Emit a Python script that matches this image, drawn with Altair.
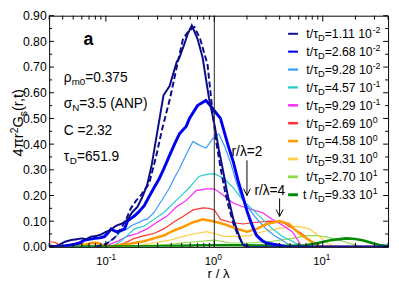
import altair as alt
import pandas as pd

FONT = "Liberation Sans"
W, H = 346, 236
REF_TOP, REF_H = 6, 243


def ypx(yref):
    return (yref - REF_TOP) * H / REF_H


# ---------------- data ----------------
nums = ["1.11", "2.68", "9.28", "4.57", "9.29", "2.69", "4.58", "9.31", "2.70", "9.33"]
exps = ["-2", "-2", "-2", "-1", "-1", "0", "0", "0", "1", "1"]
pres = ["t/τ"] * 9 + ["t /τ"]
colors = ["#0c0c8a", "#0000f0", "#3399ff", "#22cccc", "#ff22ff",
          "#ff3333", "#ff9900", "#ffcc44", "#8fd94a", "#008c00"]
widths = [2.0, 3.0, 1.2, 1.2, 1.2, 1.2, 2.6, 1.2, 1.2, 2.6]

r_s0 = [0.030, 0.034, 0.037, 0.042, 0.048, 0.054, 0.060, 0.066, 0.073, 0.081, 0.090, 0.100, 0.111, 0.120, 0.128,
        0.140, 0.158, 0.175, 0.195, 0.215, 0.240, 0.265, 0.296, 0.340, 0.387, 0.450, 0.477, 0.530, 0.570, 0.620,
        0.700, 0.780, 0.895, 1.000, 1.100, 1.200, 1.320, 1.500, 1.620, 1.730, 1.840, 2.000, 40.0]
g_s0 = [0.005, 0.003, 0.008, 0.020, 0.027, 0.030, 0.033, 0.030, 0.040, 0.042, 0.048, 0.058, 0.065, 0.078, 0.085,
        0.090, 0.105, 0.135, 0.155, 0.190, 0.240, 0.320, 0.440, 0.590, 0.626, 0.720, 0.737, 0.790, 0.830, 0.862,
        0.810, 0.737, 0.576, 0.480, 0.380, 0.300, 0.207, 0.107, 0.065, 0.033, 0.007, 0.000, 0.000]

r_s1 = [0.030, 0.040, 0.049, 0.057, 0.064, 0.072, 0.079, 0.088, 0.097, 0.105, 0.112, 0.120, 0.128, 0.140, 0.149,
        0.158, 0.170, 0.183, 0.200, 0.226, 0.250, 0.278, 0.310, 0.342, 0.387, 0.430, 0.477, 0.552, 0.590, 0.700,
        0.836, 0.920, 1.000, 1.140, 1.250, 1.350, 1.500, 1.650, 1.850, 2.000, 2.130, 2.300, 2.460, 2.750, 3.030,
        3.500, 3.970, 4.500, 40.0]
g_s1 = [0.002, 0.003, 0.008, 0.015, 0.027, 0.030, 0.033, 0.035, 0.040, 0.055, 0.070, 0.062, 0.058, 0.065, 0.070,
        0.100, 0.110, 0.120, 0.135, 0.160, 0.195, 0.230, 0.265, 0.304, 0.356, 0.400, 0.440, 0.470, 0.500, 0.550,
        0.570, 0.550, 0.530, 0.500, 0.440, 0.390, 0.330, 0.260, 0.190, 0.140, 0.107, 0.070, 0.044, 0.025, 0.015,
        0.010, 0.007, 0.000, 0.000]

r_s2 = [0.030, 0.060, 0.080, 0.095, 0.105, 0.120, 0.137, 0.158, 0.170, 0.200, 0.226, 0.240, 0.277, 0.315, 0.350,
        0.387, 0.430, 0.477, 0.550, 0.634, 0.700, 0.753, 0.840, 0.960, 1.100, 1.250, 1.410, 1.560, 1.730, 1.930,
        2.130, 2.370, 2.620, 2.900, 3.230, 3.700, 4.230, 4.800, 5.400, 40.0]
g_s2 = [0.000, 0.002, 0.005, 0.010, 0.018, 0.033, 0.059, 0.070, 0.081, 0.095, 0.105, 0.108, 0.133, 0.170, 0.200,
        0.230, 0.270, 0.304, 0.360, 0.410, 0.400, 0.393, 0.385, 0.420, 0.440, 0.390, 0.330, 0.265, 0.207, 0.170,
        0.144, 0.118, 0.096, 0.077, 0.059, 0.040, 0.026, 0.010, 0.000, 0.000]

r_s3 = [0.030, 0.100, 0.120, 0.137, 0.158, 0.183, 0.226, 0.277, 0.342, 0.387, 0.477, 0.587, 0.720, 0.850, 1.000,
        1.220, 1.500, 1.840, 2.270, 2.790, 3.440, 4.230, 5.230, 6.500, 40.0]
g_s3 = [0.000, 0.002, 0.007, 0.022, 0.044, 0.070, 0.081, 0.107, 0.133, 0.156, 0.193, 0.230, 0.274, 0.282, 0.285,
        0.267, 0.230, 0.181, 0.144, 0.107, 0.070, 0.041, 0.022, 0.000, 0.000]

r_s4 = [0.030, 0.090, 0.104, 0.128, 0.158, 0.195, 0.240, 0.296, 0.364, 0.448, 0.552, 0.680, 0.836, 1.000, 1.220,
        1.500, 1.840, 2.270, 2.790, 3.440, 4.230, 5.230, 6.300, 7.000, 40.0]
g_s4 = [0.000, 0.002, 0.007, 0.022, 0.041, 0.052, 0.070, 0.096, 0.119, 0.156, 0.181, 0.219, 0.226, 0.226, 0.200,
        0.170, 0.156, 0.144, 0.133, 0.107, 0.085, 0.059, 0.007, 0.000, 0.000]

r_s5 = [0.030, 0.034, 0.038, 0.045, 0.100, 0.120, 0.149, 0.183, 0.226, 0.277, 0.342, 0.420, 0.518, 0.638, 0.786,
        0.900, 1.000, 1.140, 1.410, 1.840, 2.460, 3.230, 4.230, 5.440, 6.500, 7.500, 8.800, 40.0]
g_s5 = [0.020, 0.018, 0.005, 0.000, 0.001, 0.004, 0.015, 0.033, 0.044, 0.052, 0.070, 0.096, 0.119, 0.144, 0.152,
        0.150, 0.144, 0.107, 0.096, 0.089, 0.096, 0.100, 0.096, 0.070, 0.050, 0.025, 0.003, 0.000]

r_s6 = [0.030, 0.045, 0.055, 0.065, 0.075, 0.085, 0.095, 0.110, 0.137, 0.183, 0.226, 0.277, 0.342, 0.420, 0.518,
        0.638, 0.786, 0.970, 1.220, 1.630, 2.000, 2.460, 3.030, 3.970, 4.900, 5.440, 6.200, 7.100, 8.800, 10.00,
        40.0]
g_s6 = [0.000, 0.003, 0.012, 0.008, 0.016, 0.015, 0.004, 0.002, 0.007, 0.015, 0.022, 0.033, 0.044, 0.063, 0.078,
        0.096, 0.107, 0.100, 0.089, 0.070, 0.059, 0.070, 0.089, 0.100, 0.089, 0.070, 0.050, 0.033, 0.007, 0.000,
        0.000]

r_s7 = [0.030, 0.150, 0.195, 0.277, 0.387, 0.518, 0.680, 0.850, 1.000, 1.220, 1.630, 2.130, 2.790, 3.740, 4.900,
        6.000, 7.500, 9.000, 11.00, 13.00, 40.0]
g_s7 = [0.000, 0.001, 0.004, 0.015, 0.026, 0.041, 0.052, 0.059, 0.052, 0.041, 0.041, 0.044, 0.059, 0.070, 0.078,
        0.080, 0.070, 0.045, 0.015, 0.000, 0.000]

r_s8 = [0.030, 0.200, 0.400, 0.550, 0.750, 1.000, 1.410, 2.130, 3.440, 5.230, 7.100, 8.800, 11.00, 14.40, 17.00,
        20.20, 24.00, 40.0]
g_s8 = [0.000, 0.003, 0.010, 0.017, 0.022, 0.026, 0.015, 0.015, 0.022, 0.033, 0.044, 0.044, 0.038, 0.026, 0.016,
        0.007, 0.000, 0.000]

r_s9 = [0.030, 0.300, 0.800, 1.500, 3.000, 5.000, 7.000, 9.000, 11.80, 16.40, 20.00, 23.20, 28.00, 33.20, 40.0]
g_s9 = [0.000, 0.002, 0.006, 0.006, 0.005, 0.004, 0.006, 0.015, 0.026, 0.033, 0.031, 0.026, 0.016, 0.007, 0.003]

r_fit = [0.080, 0.100, 0.120, 0.140, 0.155, 0.170, 0.190, 0.210, 0.230, 0.250, 0.290, 0.328, 0.390, 0.464, 0.515,
         0.580, 0.655, 0.740, 0.866, 0.970, 1.050, 1.150, 1.250, 1.350, 1.500, 1.650, 1.800, 1.950, 2.100]
g_fit = [0.000, 0.010, 0.035, 0.075, 0.110, 0.150, 0.180, 0.200, 0.225, 0.245, 0.350, 0.453, 0.577, 0.725, 0.810,
         0.840, 0.856, 0.810, 0.710, 0.515, 0.400, 0.300, 0.220, 0.160, 0.090, 0.045, 0.018, 0.005, 0.000]

y_ticks_major = [0.0, 0.1, 0.2, 0.3, 0.4, 0.5, 0.6, 0.7, 0.8, 0.9]
y_ticks_minor = [0.05, 0.15, 0.25, 0.35, 0.45, 0.55, 0.65, 0.75, 0.85]
x_ticks_major = [0.1, 1, 10]
x_ticks_minor = [0.03, 0.04, 0.05, 0.06, 0.07, 0.08, 0.09, 0.2, 0.3, 0.4, 0.5, 0.6, 0.7, 0.8, 0.9,
                 2, 3, 4, 5, 6, 7, 8, 9, 20, 30, 40]
x_label_vals = [0.1, 1, 10]
x_label_exps = ["-1", "0", "1"]

series_r = [r_s0, r_s1, r_s2, r_s3, r_s4, r_s5, r_s6, r_s7, r_s8, r_s9]
series_g = [g_s0, g_s1, g_s2, g_s3, g_s4, g_s5, g_s6, g_s7, g_s8, g_s9]

# ---------------- helpers ----------------
AW = {' ': 278, '!': 278, '(': 333, ')': 333, ',': 278, '-': 333, '.': 278, '/': 278, '=': 584,
      'A': 667, 'C': 722, 'D': 722, 'G': 778, 'N': 722, 'P': 667, 'a': 556, 'm': 833, 'r': 333,
      's': 500, 't': 278, 'ρ': 570, 'σ': 615, 'τ': 440, 'π': 690, 'λ': 500}


def tw(s, size):
    return sum(AW.get(c, 556) for c in s) * size / 1000.0


XS = alt.Scale(type="log", domain=[0.03, 40], nice=False)
YS = alt.Scale(domain=[0, 0.9], nice=False, zero=False)
YAXIS = alt.Axis(values=y_ticks_major, format=".2f", ticks=False, domain=False, grid=False,
                 labelFont=FONT, labelFontSize=12.5, labelColor="black", labelPadding=3, title=None)


def X(f):
    return alt.X(f, type="quantitative", scale=XS, axis=None)


def Y(f):
    return alt.Y(f, type="quantitative", scale=YS, axis=YAXIS)


def rich(parts, x0, y0, angle=0):
    out = []
    off = 0.0
    for txt, size, shift, bold in parts:
        ch = alt.Chart(pd.DataFrame({"t": [txt]})).mark_text(
            align="left", baseline="alphabetic", font=FONT, fontSize=size,
            fontWeight="bold" if bold else "normal", dx=off, dy=shift, angle=angle, color="black"
        ).encode(text="t:N", x=alt.value(x0), y=alt.value(y0))
        out.append(ch)
        off += tw(txt, size)
    return out


layers = []

# main curves
draw_order = [8, 7, 5, 4, 3, 2, 6, 9, 1, 0]
for i in draw_order:
    df = pd.DataFrame({"r": series_r[i], "g": series_g[i]})
    layers.append(alt.Chart(df).mark_line(color=colors[i], strokeWidth=widths[i], clip=True)
                  .encode(x=X("r"), y=Y("g")))
fit_df = pd.DataFrame({"r": r_fit, "g": g_fit})
layers.append(alt.Chart(fit_df).mark_line(color=colors[0], strokeWidth=2, strokeDash=[6, 3], clip=True)
              .encode(x=X("r"), y=Y("g")))

# vertical line at r/λ = 1
layers.append(alt.Chart(pd.DataFrame({"r": [1.0]})).mark_rule(color="#222222", strokeWidth=1)
              .encode(x=X("r")))

# inward ticks
for vals, ln in [(x_ticks_major, 6), (x_ticks_minor, 4)]:
    d = pd.DataFrame({"v": vals})
    layers.append(alt.Chart(d).mark_rule(color="black", strokeWidth=1)
                  .encode(x=X("v"), y=alt.value(H), y2=alt.value(H - ln)))
    layers.append(alt.Chart(d).mark_rule(color="black", strokeWidth=1)
                  .encode(x=X("v"), y=alt.value(0), y2=alt.value(ln)))
for vals, ln in [(y_ticks_major, 5), (y_ticks_minor, 3)]:
    d = pd.DataFrame({"v": vals})
    layers.append(alt.Chart(d).mark_rule(color="black", strokeWidth=1)
                  .encode(y=Y("v"), x=alt.value(0), x2=alt.value(ln)))
    layers.append(alt.Chart(d).mark_rule(color="black", strokeWidth=1)
                  .encode(y=Y("v"), x=alt.value(W - ln), x2=alt.value(W)))

# x tick labels 10^n
xl = pd.DataFrame({"v": x_label_vals, "e": x_label_exps, "b": ["10"] * len(x_label_vals)})
layers.append(alt.Chart(xl).mark_text(align="right", baseline="alphabetic", font=FONT, fontSize=11.5,
                                      dx=3, color="black")
              .encode(x=X("v"), y=alt.value(H + 18.5), text="b:N"))
layers.append(alt.Chart(xl).mark_text(align="left", baseline="alphabetic", font=FONT, fontSize=8.5,
                                      dx=3, color="black")
              .encode(x=X("v"), y=alt.value(H + 13), text="e:N"))

# x title
layers.append(alt.Chart(pd.DataFrame({"t": ["r / λ"]})).mark_text(
    align="center", baseline="alphabetic", font=FONT, fontSize=13.5, color="black")
    .encode(text="t:N", x=alt.value(W / 2), y=alt.value(H + 31.5)))

# y title (rotated, rich)
layers += rich([("4πr", 15, 0, False), ("2", 10.5, -5, False), ("G", 15, 0, False),
                ("s", 10.5, 4, False), ("(r,t)", 15, 0, False)], -27, ypx(118) + 35, angle=270)

# left annotations
layers += rich([("a", 18, 0, True)], 35, ypx(37))
layers += rich([("ρ", 14, 0, False), ("m0", 10, 3, False), ("=0.375", 14, 0, False)], 15, ypx(76))
layers += rich([("σ", 14, 0, False), ("N", 10, 3, False), ("=3.5 (ANP)", 14, 0, False)], 15, ypx(103))
layers += rich([("C =2.32", 14, 0, False)], 15, ypx(131))
layers += rich([("τ", 14, 0, False), ("D", 10, 3, False), ("=651.9", 14, 0, False)], 15, ypx(159))

# arrows r/λ=2 and r/λ=4
ARROW = "M-0.5,-1L0,0L0.5,-1"
for rv, lab, ytxt, ytop, ytip, tdx in [(2.0, "r/λ=2", 154, 158, 195, 0), (4.0, "r/λ=4", 194, 198, 217, -10)]:
    d = pd.DataFrame({"r": [rv], "t": [lab]})
    layers.append(alt.Chart(d).mark_text(align="center", baseline="alphabetic", font=FONT, fontSize=14,
                                         dx=tdx, color="black")
                  .encode(x=X("r"), y=alt.value(ypx(ytxt)), text="t:N"))
    layers.append(alt.Chart(d).mark_rule(color="black", strokeWidth=1)
                  .encode(x=X("r"), y=alt.value(ypx(ytop)), y2=alt.value(ypx(ytip))))
    layers.append(alt.Chart(d).mark_point(shape=ARROW, size=196, filled=False, stroke="black",
                                          strokeWidth=1, opacity=1)
                  .encode(x=X("r"), y=alt.value(ypx(ytip))))

# legend
LEG_Y0 = ypx(25)
LEG_STEP = 18.8 * H / REF_H
LX0, LX1 = 244, 254
TX = 262
leg = pd.DataFrame({"row": list(range(10)), "num": nums, "exp": exps, "pre": pres,
                    "name": [f"s{i}" for i in range(10)]})
leg["mid"] = ["=" + n + " 10" for n in nums]
base = alt.Chart(leg).transform_calculate(ly=f"{LEG_Y0} + {LEG_STEP} * datum.row")
LY = alt.Y("ly:Q", scale=None)
layers.append(base.mark_rule().encode(
    x=alt.value(LX0), x2=alt.value(LX1), y=LY,
    color=alt.Color("name:O", scale=alt.Scale(domain=[f"s{i}" for i in range(10)], range=colors), legend=None),
    strokeWidth=alt.StrokeWidth("name:O", scale=alt.Scale(domain=[f"s{i}" for i in range(10)], range=widths),
                                legend=None)))
w_pre = tw("t/τ", 12.5)
w_d = tw("D", 9.5)
w_mid = tw("=1.11 10", 12.5)
layers.append(base.mark_text(align="right", baseline="alphabetic", font=FONT, fontSize=12.5, dy=4.5,
                             color="black")
              .encode(x=alt.value(TX + w_pre), y=LY, text="pre:N"))
layers.append(base.mark_text(align="left", baseline="alphabetic", font=FONT, fontSize=9.5, dy=7.5,
                             color="black")
              .encode(x=alt.value(TX + w_pre), y=LY, text=alt.value("D")))
layers.append(base.mark_text(align="left", baseline="alphabetic", font=FONT, fontSize=12.5, dy=4.5,
                             color="black")
              .encode(x=alt.value(TX + w_pre + w_d), y=LY, text="mid:N"))
layers.append(base.mark_text(align="left", baseline="alphabetic", font=FONT, fontSize=9, dy=-0.5,
                             color="black")
              .encode(x=alt.value(TX + w_pre + w_d + w_mid), y=LY, text="exp:N"))

chart = alt.layer(*layers).properties(
    width=W, height=H,
    autosize=alt.AutoSizeParams(type="none"),
    padding={"left": 42, "top": 5, "right": 3, "bottom": 33},
    background="white",
).configure_view(stroke="black", strokeWidth=1)

chart.save("out.html", embed_options={"renderer": "svg", "actions": False})
